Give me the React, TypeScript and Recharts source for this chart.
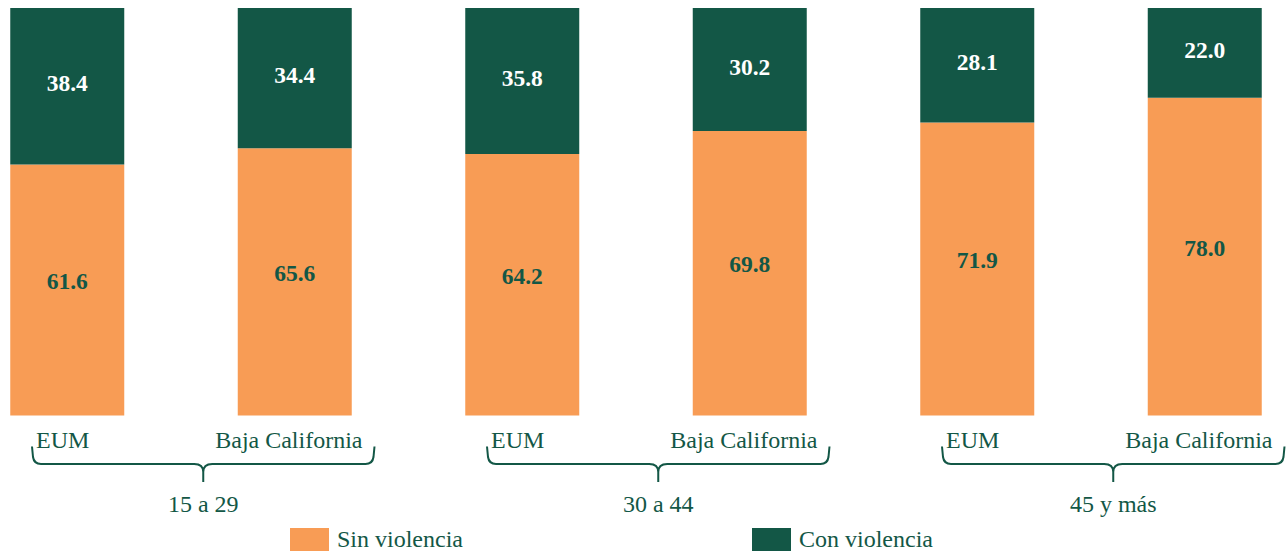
import React from "react";
import { BarChart, Bar, XAxis, YAxis, Legend, LabelList } from "recharts";

// age groups, each one has a pair of bars (EUM / Baja California)
const ageGroups = ["15 a 29", "30 a 44", "45 y más"];
const places = ["EUM", "Baja California"];
const sinViolencia = [61.6, 65.6, 64.2, 69.8, 71.9, 78.0];
const conViolencia = [38.4, 34.4, 35.8, 30.2, 28.1, 22.0];
const seriesNames = ["Sin violencia", "Con violencia"];

const ORANGE = "#F89C55";
const GREEN = "#135746";
const FONT = "'Liberation Serif', 'Times New Roman', serif";
const TEXT_SIZE = 24;

const CHART_W = 1286;
const CHART_H = 553;
const MARGIN = { top: 8, right: 81.5, left: 67, bottom: 84.5 };
const STEP = (CHART_W - MARGIN.left - MARGIN.right) / (sinViolencia.length - 1);

const data = sinViolencia.map((v, i) => ({
  idx: i,
  place: places[i % places.length],
  group: ageGroups[Math.floor(i / places.length)],
  sin: v,
  con: conViolencia[i],
}));

const renderTick = (props: any) => {
  const { x, y, payload } = props;
  const i = payload.value as number;
  const d = data[i];
  const first = i % 2 === 0;
  const label = (
    <text
      x={first ? x - 31 : x + 68}
      y={y + 32.5}
      textAnchor={first ? "start" : "end"}
      fill={GREEN}
      fontSize={TEXT_SIZE}
      fontFamily={FONT}
    >
      {d.place}
    </text>
  );
  if (!first) return <g>{label}</g>;

  // curly brace under the pair
  const left = x - 35;
  const right = x + STEP + 80;
  const mid = (left + right) / 2;
  const top = y + 31;
  const h = y + 48.5;
  const tip = y + 66.5;
  const path =
    `M${left},${top} L${left + 1},${h - 7} Q${left + 2},${h} ${left + 9},${h} ` +
    `L${mid - 9},${h} Q${mid},${h} ${mid},${h + 8} L${mid},${tip} ` +
    `M${mid},${h + 8} Q${mid},${h} ${mid + 9},${h} ` +
    `L${right - 9},${h} Q${right - 2},${h} ${right - 1},${h - 7} L${right},${top}`;
  return (
    <g>
      {label}
      <path d={path} fill="none" stroke={GREEN} strokeWidth={2} />
      <text
        x={mid}
        y={y + 96.5}
        textAnchor="middle"
        fill={GREEN}
        fontSize={TEXT_SIZE}
        fontFamily={FONT}
      >
        {d.group}
      </text>
    </g>
  );
};

const makeValueLabel = (color: string, shift: number) => (props: any) => {
  const { x, y, width, height, value } = props;
  return (
    <text
      x={x + width / 2}
      y={y + height / 2 + shift}
      textAnchor="middle"
      fill={color}
      fontSize={23.5}
      fontWeight="bold"
      fontFamily={FONT}
    >
      {Number(value).toFixed(1)}
    </text>
  );
};

const legendLeft = [290, 752];
const legendColors = [ORANGE, GREEN];

const renderLegend = () => (
  <div style={{ position: "relative", height: 23, width: CHART_W }}>
    {seriesNames.map((name, i) => (
      <div
        key={name}
        style={{
          position: "absolute",
          left: legendLeft[i],
          top: 0,
          display: "flex",
          alignItems: "center",
          height: 23,
        }}
      >
        <div style={{ width: 39, height: 23, background: legendColors[i] }} />
        <span
          style={{
            marginLeft: 8,
            fontFamily: FONT,
            fontSize: TEXT_SIZE,
            lineHeight: "23px",
            color: GREEN,
            whiteSpace: "nowrap",
          }}
        >
          {name}
        </span>
      </div>
    ))}
  </div>
);

export default function App() {
  return (
    <div style={{ position: "absolute", left: 0, top: 0, background: "#fff" }}>
      <BarChart width={CHART_W} height={CHART_H} data={data} margin={MARGIN}>
        <XAxis
          type="number"
          dataKey="idx"
          domain={[0, sinViolencia.length - 1]}
          ticks={data.map((d) => d.idx)}
          interval={0}
          height={30}
          axisLine={false}
          tickLine={false}
          tickSize={0}
          tickMargin={0}
          tick={renderTick}
        />
        <YAxis hide domain={[0, 100]} />
        <Legend
          content={renderLegend}
          wrapperStyle={{ left: 0, bottom: 2, width: CHART_W, height: 23 }}
        />
        <Bar
          dataKey="sin"
          name={seriesNames[0]}
          stackId="a"
          fill={ORANGE}
          barSize={114}
          isAnimationActive={false}
        >
          <LabelList dataKey="sin" content={makeValueLabel(GREEN, -1)} />
        </Bar>
        <Bar
          dataKey="con"
          name={seriesNames[1]}
          stackId="a"
          fill={GREEN}
          barSize={114}
          isAnimationActive={false}
        >
          <LabelList dataKey="con" content={makeValueLabel("#ffffff", 5)} />
        </Bar>
      </BarChart>
    </div>
  );
}
